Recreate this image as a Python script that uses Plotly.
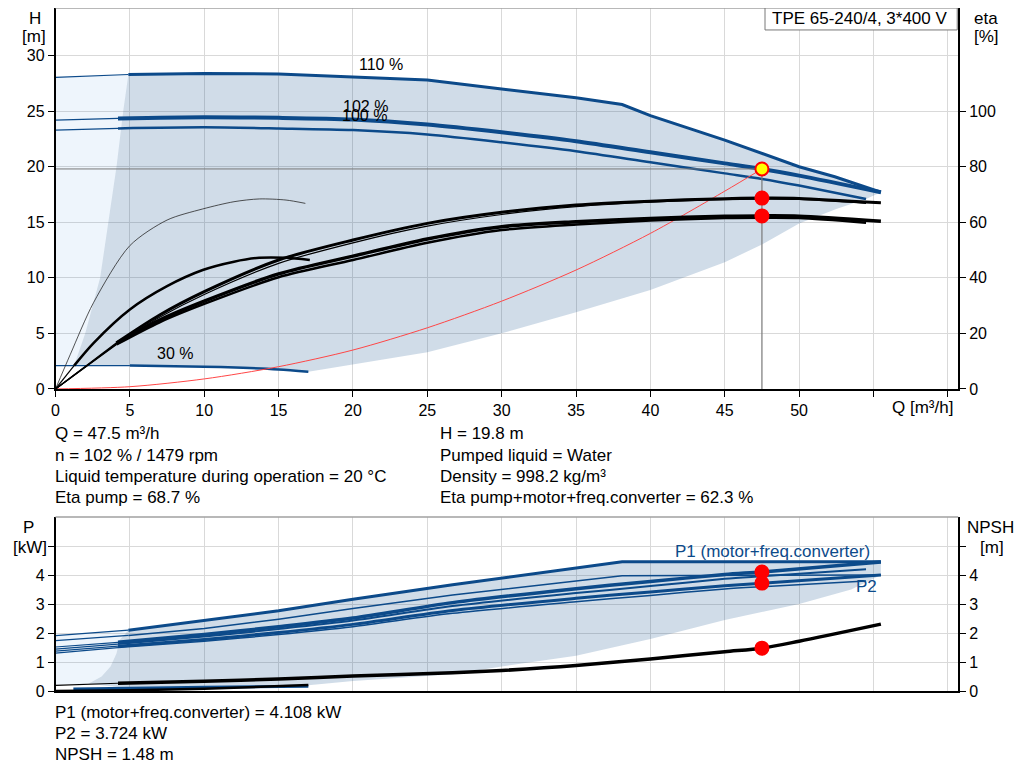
import plotly.graph_objects as go

# ---- head curves [m] ----
Q_H110 = [0, 4.9, 10, 15, 20, 25, 30, 35, 38.1, 40, 45, 50, 52.4, 55.5]
H_110 = [28.05, 28.3, 28.4, 28.35, 28.1, 27.8, 27.0, 26.2, 25.6, 24.6, 22.4, 20.0, 19.1, 17.7]
Q_H102 = [0, 4.2, 10, 15, 20, 25, 30, 35, 40, 45, 47.5, 50, 55.5]
H_102 = [24.2, 24.35, 24.45, 24.4, 24.25, 23.8, 23.1, 22.3, 21.3, 20.3, 19.8, 19.2, 17.7]
Q_H100 = [0, 4.2, 10, 15, 20, 25, 30, 35, 40, 45, 47.5, 50, 54.5]
H_100 = [23.3, 23.45, 23.55, 23.45, 23.3, 22.9, 22.2, 21.4, 20.4, 19.4, 18.9, 18.3, 17.1]
Q_H30 = [0, 5, 10, 12.6, 15, 17]
H_30 = [2.1, 2.1, 2.0, 1.9, 1.75, 1.55]

# shaded area borders (head chart)
Q_LEFT = [1.25, 2.0, 3.0, 3.55, 4.1, 4.55, 4.9]
H_LEFT = [2.1, 5, 10, 15, 20, 25, 28.3]
Q_LOW = [54.5, 52.5, 50, 47.5, 45, 40, 35, 30, 25, 20, 17]
H_LOW = [17.1, 16.2, 14.9, 13.0, 11.4, 8.9, 6.9, 5.0, 3.3, 2.2, 1.55]

# system curve
Q_SYS = [0, 5, 10, 15, 20, 25, 30, 35, 40, 45, 47.5]
H_SYS = [0, 0.2, 0.9, 2.0, 3.5, 5.5, 7.9, 10.7, 14.0, 17.8, 19.8]

# ---- efficiency curves [%] ----
Q_E30P = [0, 1, 2.55, 5, 7.5, 9.9, 12, 13.7, 15.5, 16.8]
ETA_30P = [0, 12.5, 31, 51.6, 60.8, 64.8, 67.4, 68.4, 68.0, 66.8]
Q_E30T = [0, 1.25, 2.57, 5, 7.5, 9.9, 12, 13.7, 15.5, 17.1]
ETA_30T = [0, 8.4, 16.6, 28.6, 37.0, 42.8, 45.8, 47.2, 47.2, 46.4]
Q_E102 = [0, 4.1, 7, 10, 15, 20, 25, 30, 35, 40, 45, 47.5, 50, 55.5]
Q_E100 = [0, 4.1, 7, 10, 15, 20, 25, 30, 35, 40, 45, 47.5, 50, 54.5]
ETA_P102 = [0, 16.6, 26.6, 35.0, 46.4, 53.6, 59.6, 63.6, 66.2, 67.6, 68.5, 68.7, 68.6, 67.0]
ETA_P100 = [0, 16.2, 25.8, 34.0, 45.2, 52.6, 58.6, 62.8, 65.6, 67.2, 68.1, 68.3, 68.2, 66.8]
ETA_T102 = [0, 16.4, 24.8, 31.6, 41.4, 47.8, 54.0, 58.4, 60.2, 61.4, 62.2, 62.3, 62.2, 60.4]
ETA_T100 = [0, 16.0, 24.0, 30.6, 40.2, 46.4, 52.6, 57.2, 59.2, 60.6, 61.5, 61.6, 61.5, 59.8]

# ---- power curves [kW] ----
Q_P110 = [0, 4.9, 10, 15, 20, 26.7, 38.1, 55.5]
P1_110 = [1.91, 2.1, 2.43, 2.77, 3.17, 3.67, 4.46, 4.46]
P2_110 = [1.74, 1.92, 2.16, 2.48, 2.85, 3.31, 3.98, 4.0]
Q_P102 = [0, 4.2, 10, 15, 20, 26.7, 35, 40, 45, 47.5, 55.5]
Q_P100 = [0, 4.2, 10, 15, 20, 26.7, 35, 40, 45, 47.5, 54.5]
P1_102 = [1.52, 1.68, 1.95, 2.22, 2.52, 3.05, 3.53, 3.78, 4.02, 4.11, 4.45]
P1_100 = [1.45, 1.62, 1.88, 2.14, 2.43, 2.93, 3.38, 3.62, 3.87, 3.96, 4.2]
P2_102 = [1.38, 1.55, 1.78, 2.02, 2.3, 2.78, 3.2, 3.42, 3.63, 3.72, 4.0]
P2_100 = [1.31, 1.5, 1.72, 1.95, 2.22, 2.68, 3.08, 3.3, 3.52, 3.6, 3.8]
Q_P30 = [1.2, 5, 10, 17]
P1_30 = [0.07, 0.1, 0.13, 0.17]

Q_PLEFT = [2.2, 3.1, 3.7, 4.1, 4.3, 4.9]
P_LEFT = [0.25, 0.5, 0.85, 1.3, 1.75, 2.1]
Q_PLOW = [55.5, 54.5, 53.5, 50, 45, 40, 35, 30, 26.7, 20, 17, 10, 5, 2.2]
P_LOW = [4.0, 3.75, 3.5, 3.0, 2.45, 1.8, 1.22, 0.85, 0.58, 0.35, 0.2, 0.13, 0.1, 0.25]

# ---- NPSH [m] ----
Q_NPSH = [0, 4.2, 10, 15, 20, 26.7, 30, 35, 40, 45, 47.5, 50, 55.5]
NPSH = [0.2, 0.27, 0.34, 0.42, 0.52, 0.63, 0.71, 0.88, 1.11, 1.36, 1.48, 1.72, 2.31]
Q_NPSH30 = [0, 5, 10, 17]
NPSH_30 = [0.0, 0.03, 0.08, 0.21]

# duty point
Q_DUTY = 47.5
H_DUTY = 19.8
ETA_PUMP = 68.7
ETA_TOTAL = 62.3
P1_DUTY = 4.108
P2_DUTY = 3.724
NPSH_DUTY = 1.48

X_TICKS = [0, 5, 10, 15, 20, 25, 30, 35, 40, 45, 50, 55, 60]
X_TICKTEXT = ["0", "5", "10", "15", "20", "25", "30", "35", "40", "45", "50", "", ""]

BLUE = "rgb(12,74,138)"
SHADE = "rgba(20,80,140,0.2)"
LIGHT = "rgba(12,112,212,0.07)"
GRID = "rgb(217,217,217)"
FONT = "Liberation Sans, Arial, sans-serif"

# the page body keeps an 8 px margin round the figure, and the snapshot
# comes out about 1 % shorter than the figure
OFF = 8
YSCALE = 0.99
W, H = 1024 - 2 * OFF, 781 - 2 * OFF


def px_x(sx):
    return (sx - OFF) / W


def px_y(sy):
    return 1 - (sy - OFF) / YSCALE / H


def line(x, y, color, width, xa="x", ya="y", shape="linear"):
    return go.Scatter(x=x, y=y, mode="lines",
                      line=dict(color=color, width=width, shape=shape, smoothing=0.8),
                      xaxis=xa, yaxis=ya, hoverinfo="skip", showlegend=False)


def curve(fig, x, y, color, width, start, xa="x", ya="y", shape="spline"):
    # thin part in the light area, thick part in the operating area
    fig.add_trace(line(x[:start + 1], y[:start + 1], color, 1.2, xa, ya))
    fig.add_trace(line(x[start:], y[start:], color, width, xa, ya, shape))


def area(x, y, color, xa="x", ya="y"):
    return go.Scatter(x=x, y=y, mode="lines", fill="toself", fillcolor=color,
                      line=dict(width=0), xaxis=xa, yaxis=ya,
                      hoverinfo="skip", showlegend=False)


def dot(x, y, xa, ya, fill="red", outline="red"):
    return go.Scatter(x=[x], y=[y], mode="markers", xaxis=xa, yaxis=ya,
                      marker=dict(size=13, color=fill, line=dict(color=outline, width=2)),
                      hoverinfo="skip", showlegend=False)


def text(fig, s, x, y, size=17, color="black", xanchor="left"):
    if xanchor == "left":
        x -= 4  # annotation box padding
    fig.add_annotation(text=s, x=px_x(x), y=px_y(y), xref="paper", yref="paper",
                       showarrow=False, xanchor=xanchor, yanchor="middle",
                       font=dict(family=FONT, size=size, color=color))


def main():
    fig = go.Figure()

    # ---- head chart areas ----
    light_x = [0, 0] + Q_H110[:2] + Q_LEFT[::-1] + [0]
    light_y = [H_30[0], H_110[0]] + H_110[:2] + H_LEFT[::-1] + [H_30[0]]
    fig.add_trace(area(light_x, light_y, LIGHT))
    shade_x = Q_H110[1:] + Q_LOW + Q_H30[:0:-1] + Q_LEFT
    shade_y = H_110[1:] + H_LOW + H_30[:0:-1] + H_LEFT
    fig.add_trace(area(shade_x, shade_y, SHADE))

    # head curves
    curve(fig, Q_H110, H_110, BLUE, 3, 1, shape="linear")
    curve(fig, Q_H102, H_102, BLUE, 4, 1)
    curve(fig, Q_H100, H_100, BLUE, 2.5, 1)
    curve(fig, Q_H30, H_30, BLUE, 2.5, 1)

    # duty lines and system curve
    fig.add_trace(line([0, Q_DUTY], [H_DUTY, H_DUTY], "rgb(120,120,120)", 1))
    fig.add_trace(line([Q_DUTY, Q_DUTY], [0, H_DUTY], "rgb(120,120,120)", 1.2))
    fig.add_trace(line(Q_SYS, H_SYS, "rgb(255,70,70)", 1, shape="spline"))
    fig.add_trace(dot(Q_DUTY, H_DUTY, "x", "y", fill="yellow", outline="red"))

    # efficiency curves
    fig.add_trace(line(Q_E30P, ETA_30P, "rgb(40,40,40)", 0.8, "x", "y2", "spline"))
    curve(fig, Q_E30T, ETA_30T, "black", 2.5, 1, "x", "y2")
    curve(fig, Q_E100, ETA_P100, "black", 1.2, 1, "x", "y2")
    curve(fig, Q_E102, ETA_P102, "black", 3, 1, "x", "y2")
    curve(fig, Q_E100, ETA_T100, "black", 2.5, 1, "x", "y2")
    curve(fig, Q_E102, ETA_T102, "black", 3.5, 1, "x", "y2")
    fig.add_trace(dot(Q_DUTY, ETA_PUMP, "x", "y2"))
    fig.add_trace(dot(Q_DUTY, ETA_TOTAL, "x", "y2"))

    # ---- power chart areas ----
    plight_x = [0, 0] + Q_P110[:2] + Q_PLEFT[::-1] + [0]
    plight_y = [0.22, P1_110[0]] + P1_110[:2] + P_LEFT[::-1] + [0.22]
    fig.add_trace(area(plight_x, plight_y, LIGHT, "x2", "y3"))
    pshade_x = Q_P110[1:] + Q_PLOW + Q_PLEFT
    pshade_y = P1_110[1:] + P_LOW + P_LEFT
    fig.add_trace(area(pshade_x, pshade_y, SHADE, "x2", "y3"))

    curve(fig, Q_P110, P1_110, BLUE, 3, 1, "x2", "y3", "linear")
    curve(fig, Q_P110, P2_110, BLUE, 1.5, 1, "x2", "y3", "linear")
    curve(fig, Q_P100, P2_100, BLUE, 1.5, 1, "x2", "y3")
    curve(fig, Q_P102, P2_102, BLUE, 3, 1, "x2", "y3")
    curve(fig, Q_P100, P1_100, BLUE, 2, 1, "x2", "y3")
    curve(fig, Q_P102, P1_102, BLUE, 3.5, 1, "x2", "y3")
    fig.add_trace(line(Q_P30, P1_30, BLUE, 3, "x2", "y3", "spline"))
    fig.add_trace(dot(Q_DUTY, P1_DUTY, "x2", "y3"))
    fig.add_trace(dot(Q_DUTY, P2_DUTY, "x2", "y3"))

    # NPSH
    fig.add_trace(line(Q_NPSH30, NPSH_30, "black", 2.5, "x2", "y4", "spline"))
    curve(fig, Q_NPSH, NPSH, "black", 3.5, 1, "x2", "y4")
    fig.add_trace(dot(Q_DUTY, NPSH_DUTY, "x2", "y4"))

    # ---- axes ----
    tickfont = dict(family=FONT, size=16, color="black")
    xcommon = dict(range=[0, 60.7], tickvals=X_TICKS, showgrid=True, gridcolor=GRID,
                   gridwidth=1, showline=True, linecolor="black", linewidth=1.5,
                   zeroline=False, tickfont=tickfont, domain=[px_x(51.7), px_x(958)],
                   fixedrange=True)
    ycommon = dict(showline=True, linecolor="black", linewidth=1.5, zeroline=False,
                   ticks="outside", ticklen=6, tickcolor="black", tickfont=tickfont,
                   fixedrange=True)
    h_top = (389.6 - OFF) / 11.13
    fig.update_layout(
        width=W, height=H, autosize=False,
        margin=dict(l=0, r=0, t=0, b=0),
        paper_bgcolor="white", plot_bgcolor="white",
        showlegend=False,
        xaxis=dict(anchor="y", ticktext=X_TICKTEXT, ticks="outside", ticklen=6,
                   tickcolor="black", **xcommon),
        yaxis=dict(domain=[px_y(389.6), 1], range=[0, h_top],
                   tickvals=[0, 5, 10, 15, 20, 25, 30], showgrid=True,
                   gridcolor=GRID, **ycommon),
        yaxis2=dict(overlaying="y", side="right", anchor="x", range=[0, 4 * h_top],
                    tickvals=[0, 20, 40, 60, 80, 100], showgrid=False, **ycommon),
        xaxis2=dict(anchor="y3", showticklabels=False, ticks="", **xcommon),
        yaxis3=dict(domain=[px_y(692.3), px_y(518)], range=[0, 6],
                    tickvals=[0, 1, 2, 3, 4, 5], ticktext=["0", "1", "2", "3", "4", ""],
                    showgrid=True, gridcolor=GRID, **ycommon),
        yaxis4=dict(overlaying="y3", side="right", anchor="x2", range=[0, 6],
                    tickvals=[0, 1, 2, 3, 4, 5], ticktext=["0", "1", "2", "3", "4", ""],
                    showgrid=False, **ycommon),
    )

    # grey top borders of both charts
    for ytop in (1, px_y(518)):
        fig.add_shape(type="line", xref="paper", yref="paper", x0=px_x(51.7),
                      x1=px_x(958), y0=ytop, y1=ytop,
                      line=dict(color="rgb(160,160,160)", width=1.5))

    # type box
    fig.add_shape(type="rect", xref="paper", yref="paper", x0=px_x(764), x1=px_x(957),
                  y0=px_y(30), y1=1,
                  line=dict(color="rgb(120,120,120)", width=1), fillcolor="white")
    text(fig, "TPE 65-240/4, 3*400 V", 859, 19, xanchor="center")

    # axis titles
    text(fig, "H", 31, 19, xanchor="center")
    text(fig, "[m]", 30, 37, xanchor="center")
    text(fig, "eta", 986, 19, xanchor="center")
    text(fig, "[%]", 986, 37, xanchor="center")
    text(fig, "Q [m³/h]", 922, 408, xanchor="center")
    text(fig, "P", 25, 528, xanchor="center")
    text(fig, "[kW]", 26, 548, xanchor="center")
    text(fig, "NPSH", 990, 528, xanchor="center")
    text(fig, "[m]", 992, 548, xanchor="center")

    # curve labels
    for s, q, h in (("110 %", 21.9, 29.2), ("102 %", 20.85, 25.4), ("100 %", 20.8, 24.6),
                    ("30 %", 8.05, 3.2)):
        fig.add_annotation(text=s, x=q, y=h, xref="x", yref="y", showarrow=False,
                           font=dict(family=FONT, size=16, color="black"))
    fig.add_annotation(text="P1 (motor+freq.converter)", x=48.2, y=4.8, xref="x2",
                       yref="y3", showarrow=False,
                       font=dict(family=FONT, size=17, color=BLUE))
    fig.add_annotation(text="P2", x=54.5, y=3.6, xref="x2", yref="y3", showarrow=False,
                       font=dict(family=FONT, size=17, color=BLUE))

    # readings
    text(fig, "Q = 47.5 m³/h", 53, 434)
    text(fig, "n = 102 % / 1479 rpm", 53, 456)
    text(fig, "Liquid temperature during operation = 20 °C", 53, 477)
    text(fig, "Eta pump = 68.7 %", 53, 498)
    text(fig, "H = 19.8 m", 440, 434)
    text(fig, "Pumped liquid = Water", 440, 456)
    text(fig, "Density = 998.2 kg/m³", 440, 477)
    text(fig, "Eta pump+motor+freq.converter = 62.3 %", 440, 498)
    text(fig, "P1 (motor+freq.converter) = 4.108 kW", 53, 714)
    text(fig, "P2 = 3.724 kW", 53, 735)
    text(fig, "NPSH = 1.48 m", 53, 756)

    fig.write_html("out.html")


if __name__ == "__main__":
    main()
